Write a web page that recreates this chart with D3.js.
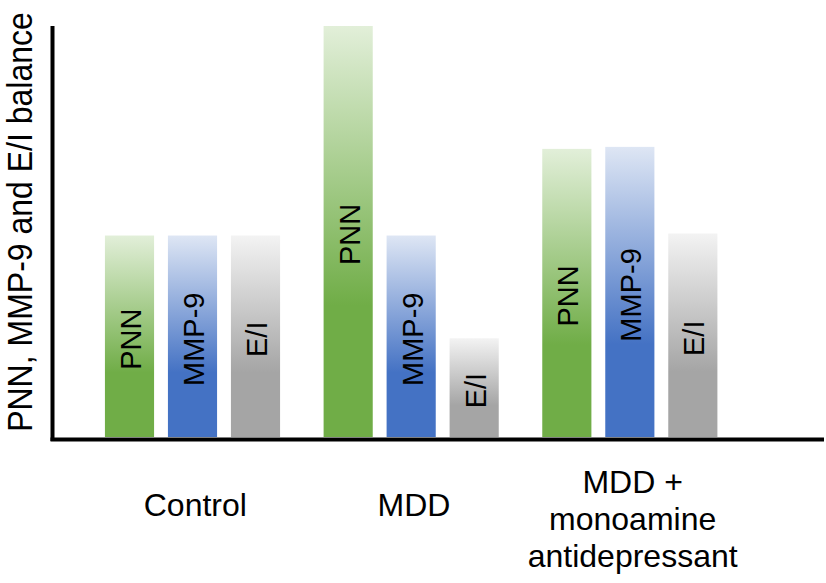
<!DOCTYPE html>
<html>
<head>
<meta charset="utf-8">
<script src="https://cdn.jsdelivr.net/npm/d3@7"></script>
<style>
  body { margin: 0; background: #fff; }
  text { font-family: "Liberation Sans", Arial, sans-serif; fill: #000; }
</style>
</head>
<body>
<div id="chart"></div>
<script>
// groups along the x axis, label lines for each
const groups = ["Control", "MDD", "MDD + antidepressant"];
const groupLines = [["Control"], ["MDD"], ["MDD +", "monoamine", "antidepressant"]];
const series = ["PNN", "MMP-9", "E/I"];
// relative levels (control = 1)
const pnn = [1.0, 2.04, 1.43];
const mmp9 = [1.0, 1.0, 1.44];
const ei = [1.0, 0.49, 1.01];
const values = [pnn, mmp9, ei];

const width = 826;
const height = 583;

const svg = d3.select("#chart")
    .append("svg")
    .attr("width", width).attr("height", height);

const defs = svg.append("defs");
const shades = [
    { id: "gPNN", light: "#e2efd9", dark: "#70ad47" },
    { id: "gMMP", light: "#dee6f4", dark: "#4472c4" },
    { id: "gEI", light: "#f3f3f3", dark: "#a5a5a5" }
];
shades.forEach(s => {
    const g = defs.append("linearGradient")
        .attr("id", s.id)
        .attr("x1", 0).attr("y1", 0).attr("x2", 0).attr("y2", 1);
    g.append("stop").attr("offset", "0%").attr("stop-color", s.light);
    g.append("stop").attr("offset", "68%").attr("stop-color", s.dark);
    g.append("stop").attr("offset", "100%").attr("stop-color", s.dark);
});

const x0 = d3.scaleBand()
    .domain(groups)
    .range([82, 738]);

const x1 = d3.scaleBand()
    .domain(series)
    .range([16, 205])
    .paddingInner(0.22)
    .paddingOuter(0.11);

const y = d3.scaleLinear()
    .domain([0, 2.04])
    .range([437, 26]);

const rows = [];
groups.forEach((g, gi) => {
    series.forEach((s, si) => {
        rows.push({ group: g, series: s, si: si, value: values[si][gi] });
    });
});

const bar = svg.append("g")
    .selectAll("g")
    .data(rows)
    .enter().append("g")
    .attr("transform", d => `translate(${x0(d.group) + x1(d.series)},0)`);

bar.append("rect")
    .attr("x", 0)
    .attr("y", d => y(d.value))
    .attr("width", x1.bandwidth())
    .attr("height", d => y(0) - y(d.value))
    .attr("fill", d => `url(#${shades[d.si].id})`);

bar.append("text")
    .attr("transform", d => `translate(${x1.bandwidth() / 2 + 11.5},${(y(d.value) + y(0)) / 2 + 3}) rotate(-90)`)
    .attr("text-anchor", "middle")
    .style("font-size", "29px")
    .text(d => d.series);

// axes, drawn as plain lines like the original figure
svg.append("line")
    .attr("x1", 52.5).attr("x2", 52.5)
    .attr("y1", 26).attr("y2", 441)
    .attr("stroke", "#000").attr("stroke-width", 4);

svg.append("line")
    .attr("x1", 50.5).attr("x2", 824)
    .attr("y1", 439.5).attr("y2", 439.5)
    .attr("stroke", "#000").attr("stroke-width", 4);

// group labels under the axis
const lab = svg.append("g")
    .selectAll("text")
    .data(groups)
    .enter().append("text")
    .attr("text-anchor", "middle")
    .style("font-size", "32px")
    .attr("transform", d => `translate(${x0(d) + x0.bandwidth() / 2 + 4},0)`);

lab.each(function(d, i) {
    const lines = groupLines[i];
    const top = lines.length === 1 ? 516 : 493;
    d3.select(this).selectAll("tspan")
        .data(lines)
        .enter().append("tspan")
        .attr("x", 0)
        .attr("y", (t, j) => top + j * 37)
        .text(t => t);
});

svg.append("text")
    .attr("transform", "translate(32,222) rotate(-90) scale(1,1.12)")
    .attr("text-anchor", "middle")
    .style("font-size", "32px")
    .text("PNN, MMP-9 and E/I balance");
</script>
</body>
</html>
